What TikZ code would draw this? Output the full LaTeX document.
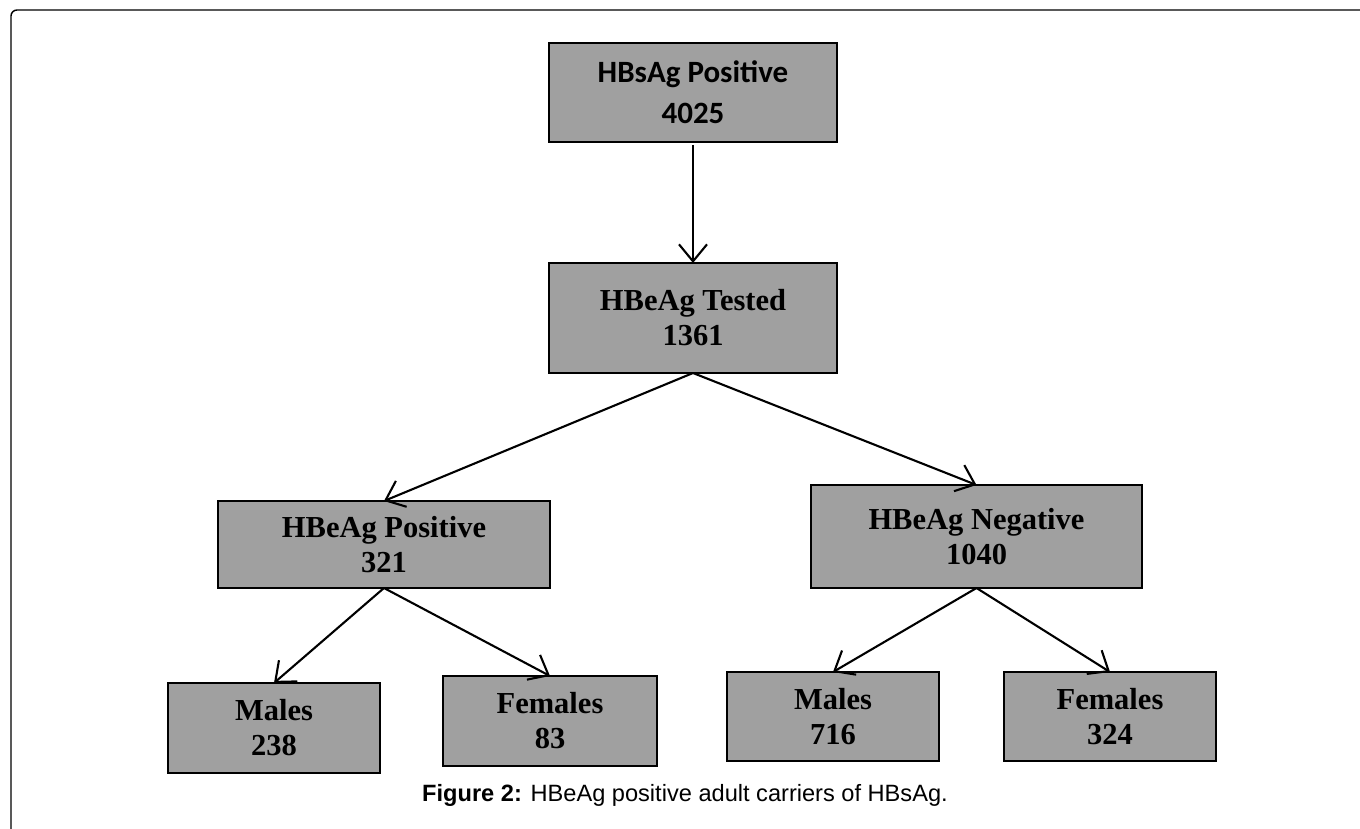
\documentclass[tikz,border=0pt]{standalone}
\usepackage{fontspec}
\setmainfont{Liberation Serif}
\newfontfamily\calib{Carlito}
\newfontfamily\arialf{Liberation Sans}
\usetikzlibrary{arrows.meta}
\definecolor{boxgray}{RGB}{160,160,160}
\tikzset{
  box/.style={draw=black, line width=2.2pt, fill=boxgray, inner sep=0pt, outer sep=0pt, align=center,
    font=\fontsize{30.5}{35}\selectfont\bfseries},
  topbox/.style={box, font=\calib\fontsize{31}{41}\selectfont\bfseries},
  conn/.style={line width=2.1pt, -{Straight Barb[length=17pt,width=28pt,line width=2.1pt]}},
  frame/.style={line width=1.4pt, rounded corners=6pt}
}
\begin{document}
\begin{tikzpicture}[x=1pt,y=-1pt]
\useasboundingbox (0,0) rectangle (1360,829);
\fill[white] (0,0) rectangle (1360,829);
\draw[frame] (11,829) -- (11,10) -- (1360,10);
\node[topbox, minimum width=288pt, minimum height=99pt] (b1) at (693,92.5) {HBsAg Positive\\4025};
\node[box, minimum width=288pt, minimum height=110pt] (b2) at (693,318) {HBeAg Tested\\1361};
\node[box, minimum width=332pt, minimum height=87pt] (b3) at (384,544.5) {HBeAg Positive\\321};
\node[box, minimum width=331pt, minimum height=103pt] (b4) at (976.5,536.5) {HBeAg Negative\\1040};
\node[box, minimum width=212pt, minimum height=90pt] (m1) at (274,728) {Males\\238};
\node[box, minimum width=214pt, minimum height=90pt] (f1) at (550,721) {Females\\83};
\node[box, minimum width=212pt, minimum height=89pt] (m2) at (833,716.5) {Males\\716};
\node[box, minimum width=212pt, minimum height=89pt] (f2) at (1110,716.5) {Females\\324};
\draw[conn] ([yshift=-3pt]b1.south) -- (b2.north);
\draw[conn] (b2.south) -- (b3.north);
\draw[conn] (b2.south) -- (b4.north);
\draw[conn] (b3.south) -- (m1.north);
\draw[conn] (b3.south) -- (f1.north);
\draw[conn] (b4.south) -- (m2.north);
\draw[conn] (b4.south) -- (f2.north);
\node[font=\arialf\fontsize{23.6}{27}\selectfont, inner sep=0pt] (cap) at (685,795) {\textbf{Figure 2:} HBeAg positive adult carriers of HBsAg.};
\end{tikzpicture}
\end{document}
